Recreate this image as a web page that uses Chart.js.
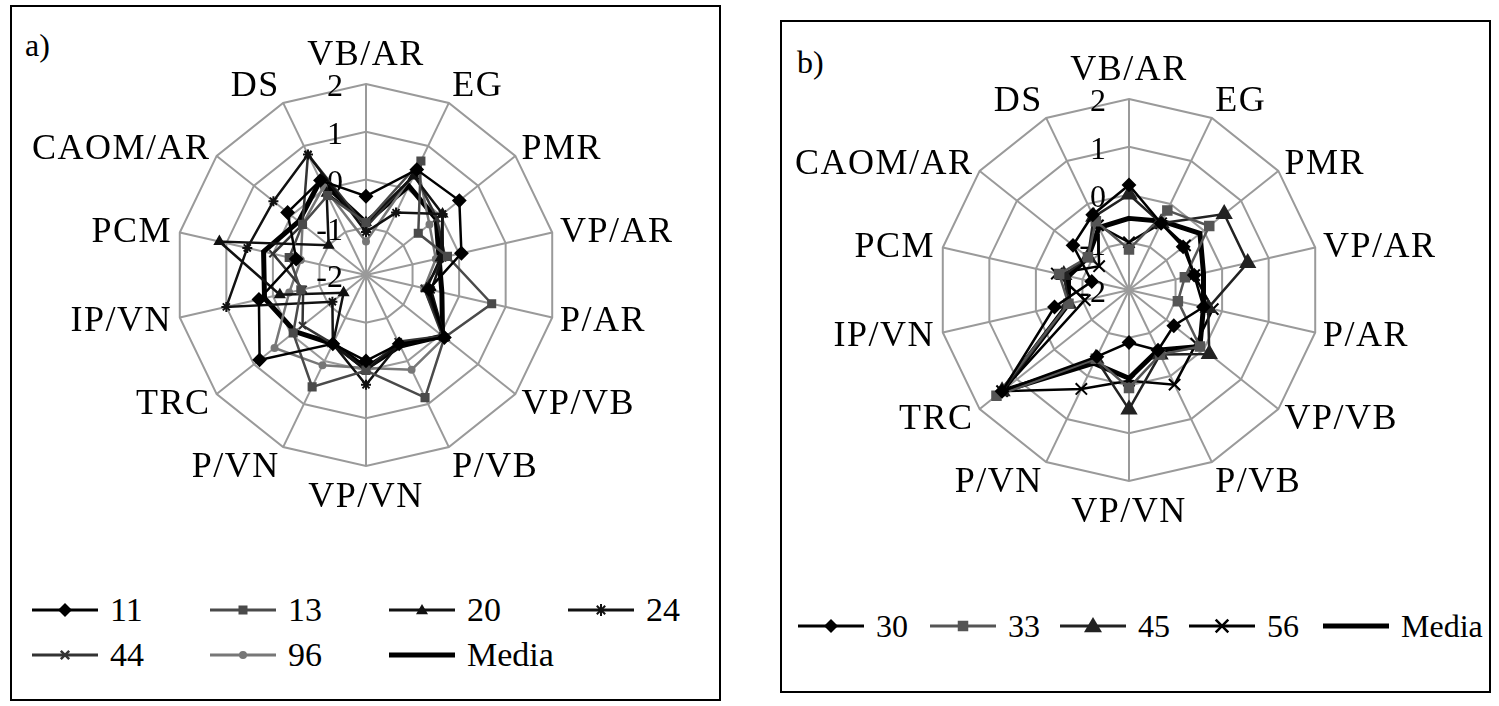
<!DOCTYPE html>
<html>
<head>
<meta charset="utf-8">
<script src="https://cdn.jsdelivr.net/npm/chart.js@4.4.1/dist/chart.umd.min.js"></script>
<style>
  body { margin: 0; background: #fff; }
  #page { position: relative; width: 1499px; height: 706px; overflow: hidden; font-family: "Liberation Serif", serif; }
  .box { position: absolute; border: 2px solid #000; box-sizing: border-box; }
  .tag { position: absolute; font-size: 32px; }
  canvas { position: absolute; }
  .leg { position: absolute; display: flex; align-items: center; white-space: nowrap; }
  .leg svg { display: block; }
  .leg span { margin-left: 12px; }
</style>
</head>
<body>
<div id="page">
  <div class="box" style="left:10px;top:5px;width:711px;height:696px"></div>
  <div class="box" style="left:780px;top:20px;width:711px;height:673px"></div>
  <div class="tag" style="left:25px;top:27px">a)</div>
  <div class="tag" style="left:797px;top:44px">b)</div>
  <canvas id="chartA" width="706" height="580" style="left:12px;top:7px;width:706px;height:580px"></canvas>
  <canvas id="chartB" width="706" height="580" style="left:782px;top:22px;width:706px;height:580px"></canvas>
  <div id="legA"></div>
  <div id="legB"></div>
</div>
<script>
// categories (clockwise from the top)
const categories = ['VB/AR', 'EG', 'PMR', 'VP/AR', 'P/AR', 'VP/VB', 'P/VB', 'VP/VN', 'P/VN', 'TRC', 'IP/VN', 'PCM', 'CAOM/AR', 'DS'];
const tickValues = [2, 1, 0, -1, -2];

// panel a)
const a11 = [-0.35, 0.45, 0.5, 0.05, -0.65, 0.1, -0.4, -0.2, -0.4, 0.85, 0.3, -0.5, 0.1, 0.2];
const a13 = [-0.9, 0.65, -0.6, -0.25, 0.7, 0.1, 0.85, 0.0, 0.6, -0.05, -0.6, -0.35, -0.3, -0.15];
const a20 = [-0.9, 0.3, 0.05, -0.4, -0.7, 0.1, -0.4, 0.0, -0.4, -1.4, -0.15, 1.15, -1.0, -0.1];
const a24 = [-1.1, -0.55, 0.05, -0.35, -0.6, 0.1, -0.4, 0.3, -0.4, -1.1, 1.0, 0.55, 0.48, 0.8];
const a44 = [-1.0, 0.35, -0.1, -0.3, -0.75, 0.05, -0.45, 0.0, -0.4, -0.3, -0.65, 0.0, -0.3, 0.8];
const a96 = [-1.3, 0.5, -0.3, -0.5, -0.75, 0.1, 0.2, -0.05, 0.1, 0.45, -0.35, -0.6, -0.3, 0.05];
const aMedia = [-0.9, 0.07, -0.12, -0.43, -0.37, 0.05, -0.35, -0.05, -0.4, -0.1, 0.18, 0.2, -0.2, 0.2];

// panel b)
const b30 = [0.2, -0.45, -0.55, -0.6, -0.4, -0.8, -0.6, -0.9, -0.45, 1.4, -0.4, -1.2, -0.5, -0.25];
const b33 = [-1.15, -0.15, 0.15, -0.8, -0.95, -0.1, -0.5, 0.05, -0.4, 1.55, -0.7, -0.5, -0.9, -0.4];
const b45 = [0.0, -0.45, 0.55, 0.55, -0.3, 0.15, -0.5, 0.5, -0.4, 1.4, -0.7, -0.6, -0.9, -0.3];
const b56 = [-1.0, -0.45, -0.5, -0.6, -0.2, -0.2, 0.2, -0.1, 0.3, 1.4, -1.05, -0.45, -1.2, -0.5];
const bMedia = [-0.5, -0.4, -0.1, -0.4, -0.4, -0.1, -0.6, -0.15, -0.3, 1.4, -0.7, -0.7, -0.9, -0.55];

const seriesA = [
  { label: '11', data: a11, color: '#000', style: 'rectRot', r: 6 },
  { label: '13', data: a13, color: '#4a4a4a', style: 'rect', r: 5 },
  { label: '20', data: a20, color: '#111', style: 'triangle', r: 5 },
  { label: '24', data: a24, color: '#111', style: 'star', r: 5 },
  { label: '44', data: a44, color: '#333', style: 'crossRot', r: 5 },
  { label: '96', data: a96, color: '#777', style: 'circle', r: 3 },
  { label: 'Media', data: aMedia, color: '#000', style: false, r: 0, width: 5 }
];
const seriesB = [
  { label: '30', data: b30, color: '#000', style: 'rectRot', r: 6 },
  { label: '33', data: b33, color: '#555', style: 'rect', r: 6 },
  { label: '45', data: b45, color: '#222', style: 'triangle', r: 8 },
  { label: '56', data: b56, color: '#000', style: 'crossRot', r: 8 },
  { label: 'Media', data: bMedia, color: '#000', style: false, r: 0, width: 5 }
];

const spokeText = {
  id: 'spokeText',
  beforeDatasetsDraw(chart) {
    const scale = chart.scales.r;
    const ctx = chart.ctx;
    ctx.save();
    ctx.fillStyle = '#000';
    ctx.font = '32px "Liberation Serif"';
    ctx.textAlign = 'right';
    ctx.textBaseline = 'middle';
    tickValues.forEach(v => {
      const d = scale.getDistanceFromCenterForValue(v);
      ctx.fillText(String(v), scale.xCenter - 23, scale.yCenter - d + 4);
    });
    ctx.font = '36px "Liberation Serif"';
    ctx.letterSpacing = '1.5px';
    chart.data.labels.forEach((lab, i) => {
      const ang = scale.getIndexAngle(i);
      const s = Math.sin(ang), c = Math.cos(ang);
      const p = scale.getPointPosition(i, scale.drawingArea + 8);
      ctx.textAlign = s > 0.1 ? 'left' : (s < -0.1 ? 'right' : 'center');
      ctx.fillText(lab, p.x, p.y - c * 22 * (1 - Math.abs(s)) + 2);
    });
    ctx.restore();
  }
};

function makeRadar(id, series, pad) {
  return new Chart(document.getElementById(id), {
    type: 'radar',
    data: {
      labels: categories,
      datasets: series.map(s => ({
        label: s.label,
        data: s.data,
        borderColor: s.color,
        backgroundColor: s.color,
        pointBackgroundColor: s.color,
        pointBorderColor: s.color,
        pointStyle: s.style,
        pointRadius: s.r,
        pointBorderWidth: 2,
        borderWidth: s.width || 2.5,
        fill: false,
        tension: 0
      }))
    },
    options: {
      responsive: false,
      animation: false,
      events: [],
      layout: { padding: pad },
      plugins: { legend: { display: false }, tooltip: { enabled: false } },
      scales: {
        r: {
          min: -2,
          max: 2,
          ticks: { stepSize: 1, display: false },
          grid: { color: '#9a9a9a', lineWidth: 2 },
          angleLines: { color: '#9a9a9a', lineWidth: 2 },
          pointLabels: { display: false }
        }
      }
    },
    plugins: [spokeText]
  });
}

makeRadar('chartA', seriesA, { left: 163, top: 77, right: 161, bottom: 121 });
makeRadar('chartB', seriesB, { left: 156, top: 77, right: 168, bottom: 121 });

// legends: a line with the marker in the middle, then the name
function markerSvg(s, len) {
  const cx = len / 2, cy = 10, r = s.r + 1;
  let m = '';
  if (s.style === 'rectRot') m = `<polygon points="${cx},${cy - r} ${cx + r},${cy} ${cx},${cy + r} ${cx - r},${cy}" fill="${s.color}"/>`;
  else if (s.style === 'rect') m = `<rect x="${cx - r * 0.75}" y="${cy - r * 0.75}" width="${r * 1.5}" height="${r * 1.5}" fill="${s.color}"/>`;
  else if (s.style === 'triangle') m = `<polygon points="${cx},${cy - r} ${cx + r},${cy + r * 0.7} ${cx - r},${cy + r * 0.7}" fill="${s.color}"/>`;
  else if (s.style === 'star') m = `<path d="M${cx - r * 0.7} ${cy - r * 0.7}L${cx + r * 0.7} ${cy + r * 0.7}M${cx + r * 0.7} ${cy - r * 0.7}L${cx - r * 0.7} ${cy + r * 0.7}M${cx} ${cy - r}L${cx} ${cy + r}" stroke="${s.color}" stroke-width="2"/>`;
  else if (s.style === 'crossRot') m = `<path d="M${cx - r * 0.7} ${cy - r * 0.7}L${cx + r * 0.7} ${cy + r * 0.7}M${cx + r * 0.7} ${cy - r * 0.7}L${cx - r * 0.7} ${cy + r * 0.7}" stroke="${s.color}" stroke-width="2.5"/>`;
  else if (s.style === 'circle') m = `<circle cx="${cx}" cy="${cy}" r="${r}" fill="${s.color}"/>`;
  return `<svg width="${len}" height="20"><line x1="0" y1="10" x2="${len}" y2="10" stroke="${s.color}" stroke-width="${s.width || 3}"/>${m}</svg>`;
}

function makeLegend(id, series, spots, fontSize) {
  const host = document.getElementById(id);
  series.forEach((s, i) => {
    const d = document.createElement('div');
    d.className = 'leg';
    d.style.left = spots[i][0] + 'px';
    d.style.top = (spots[i][1] - 20) + 'px';
    d.style.height = '40px';
    d.style.fontSize = fontSize + 'px';
    d.innerHTML = markerSvg(s, 66) + '<span>' + s.label + '</span>';
    host.appendChild(d);
  });
}

makeLegend('legA', seriesA, [[32, 610], [210, 610], [389, 610], [568, 610], [32, 655], [210, 655], [389, 655]], 34);
makeLegend('legB', seriesB, [[798, 626], [930, 626], [1060, 626], [1189, 626], [1323, 626]], 32);
</script>
</body>
</html>
